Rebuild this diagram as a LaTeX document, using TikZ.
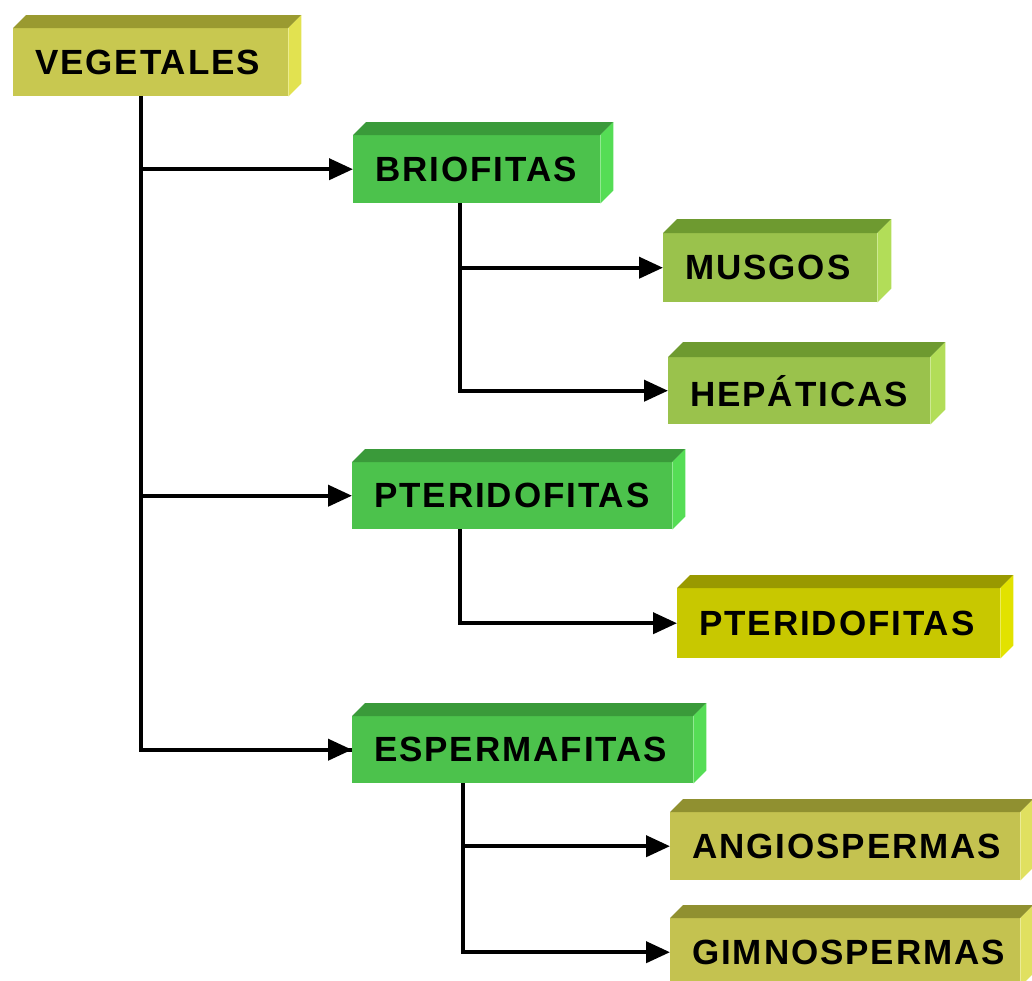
\documentclass[tikz,border=0pt]{standalone}
\usepackage{fontspec}
\setmainfont{Liberation Sans}
\newfontfamily\lblfont[LetterSpace=5.5]{Liberation Sans}
\usetikzlibrary{arrows.meta}
\definecolor{vegF}{HTML}{C8C850}\definecolor{vegT}{HTML}{9A9A30}\definecolor{vegR}{HTML}{E2E250}
\definecolor{grnF}{HTML}{4CC24C}\definecolor{grnT}{HTML}{3A9A3A}\definecolor{grnR}{HTML}{55DD55}
\definecolor{limF}{HTML}{9AC24C}\definecolor{limT}{HTML}{6E9A30}\definecolor{limR}{HTML}{B2DD58}
\definecolor{yelF}{HTML}{C8C800}\definecolor{yelT}{HTML}{999900}\definecolor{yelR}{HTML}{E2E200}
\definecolor{oliF}{HTML}{C4C250}\definecolor{oliT}{HTML}{909030}\definecolor{oliR}{HTML}{E0E060}
\newcommand\faces[4]{%
  \fill[#2] (#1.north west) -- ++(#4,-#4) -- ([shift={(#4,-#4)}]#1.north east) -- (#1.north east) -- cycle;
  \fill[#3] (#1.north east) -- ++(#4,-#4) -- ([shift={(#4,-#4)}]#1.south east) -- (#1.south east) -- cycle;}
\begin{document}
\begin{tikzpicture}[x=1pt,y=-1pt,
  blk/.style={anchor=north west,inner xsep=22pt,inner ysep=0pt,align=left,
    font=\lblfont\fontsize{35}{38}\selectfont\bfseries,text=black},
  conn/.style={line width=4pt,-{Triangle[length=24pt,width=21pt]}},
  stem/.style={line width=4pt}]
\useasboundingbox (0,0) rectangle (1032,980);
\node[blk,fill=vegF,text width=231pt,minimum height=68pt] (veg) at (13,28) {VEGETALES};
\node[blk,fill=grnF,text width=203pt,minimum height=68pt] (brio) at (353,135) {BRIOFITAS};
\node[blk,fill=limF,text width=170pt,minimum height=69pt] (musg) at (663,233) {MUSGOS};
\node[blk,fill=limF,text width=218pt,minimum height=67pt] (hepa) at (668,357) {HEPÁTICAS};
\node[blk,fill=grnF,text width=276pt,minimum height=67pt] (pter) at (352,462) {PTERIDOFITAS};
\node[blk,fill=yelF,text width=279pt,minimum height=70pt] (pter2) at (677,588) {PTERIDOFITAS};
\node[blk,fill=grnF,text width=297pt,minimum height=67pt] (esper) at (352,716) {ESPERMAFITAS};
\node[blk,fill=oliF,text width=306pt,minimum height=68pt] (angio) at (670,812) {ANGIOSPERMAS};
\node[blk,fill=oliF,text width=306pt,minimum height=68pt] (gimno) at (670,918) {GIMNOSPERMAS};
\faces{veg}{vegT}{vegR}{13}
\faces{brio}{grnT}{grnR}{13}
\faces{musg}{limT}{limR}{14}
\faces{hepa}{limT}{limR}{15}
\faces{pter}{grnT}{grnR}{13}
\faces{pter2}{yelT}{yelR}{13}
\faces{esper}{grnT}{grnR}{13}
\faces{angio}{oliT}{oliR}{13}
\faces{gimno}{oliT}{oliR}{13}
% connectors
\coordinate (v0) at ([xshift=128pt]veg.south west);
\draw[stem] (v0) |- (esper.west);
\draw[conn] (v0) |- (brio.west);
\draw[conn] (v0) |- (pter.west);
\draw[conn] (v0) |- (esper.west);
\coordinate (b0) at ([xshift=107pt]brio.south west);
\draw[conn] (b0) |- (musg.west);
\draw[conn] (b0) |- (hepa.west);
\coordinate (p0) at ([xshift=108pt]pter.south west);
\draw[conn] (p0) |- (pter2.west);
\coordinate (e0) at ([xshift=111pt]esper.south west);
\draw[conn] (e0) |- (angio.west);
\draw[conn] (e0) |- (gimno.west);
\end{tikzpicture}
\end{document}
